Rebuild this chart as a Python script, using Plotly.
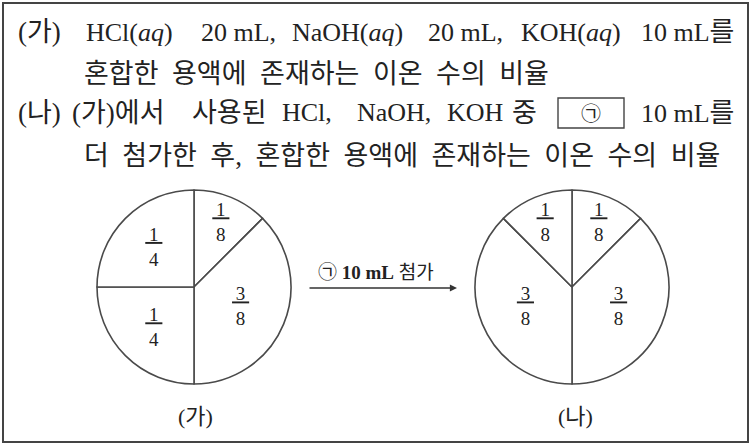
import plotly.graph_objects as go

# ---- data ----
slice_ids_ga = ["A", "B", "C", "D"]
fractions_ga = ["1/8", "3/8", "1/4", "1/4"]          # clockwise from 12 o'clock
slice_ids_na = ["A", "B", "C", "D"]
fractions_na = ["1/8", "3/8", "3/8", "1/8"]
pie_titles = ["가", "나"]
arrow_label = "㉠ <b>10 mL</b> 첨가"

W, H = 750, 444
SERIF = "Liberation Serif, Noto Sans CJK KR"
INK = "#222222"


def frac_value(f):
    n, d = f.split("/")
    return float(n) / float(d)


def frac_text(f):
    n, d = f.split("/")
    return "<u>\u2009" + n + "\u2009</u><br>" + d


def px(x):
    return x / W


def py(y):
    return 1 - y / H


def dom(cx, cy, r):
    return dict(x=[px(cx - r), px(cx + r)], y=[py(cy + r), py(cy - r)])


fig = go.Figure()
for ids, fr, (cx, cy) in [(slice_ids_ga, fractions_ga, (194, 287)),
                          (slice_ids_na, fractions_na, (572, 287))]:
    fig.add_trace(go.Pie(
        labels=ids, values=[frac_value(f) for f in fr],
        text=[frac_text(f) for f in fr], textinfo="text",
        textposition="inside", insidetextorientation="horizontal",
        sort=False, direction="clockwise", rotation=0,
        marker=dict(colors=["white"] * len(fr), line=dict(color="#4a4a4a", width=1.6)),
        textfont=dict(family="Liberation Serif", size=19, color=INK),
        domain=dom(cx, cy, 97), hoverinfo="skip", showlegend=False,
    ))

ann = []


def txt(x, y, s, size=26, anchor="left", family=SERIF):
    a = dict(x=px(x), y=py(y), xref="paper", yref="paper", text=s,
             showarrow=False, xanchor=anchor, yanchor="middle", align=anchor,
             borderpad=0, borderwidth=0,
             font=dict(family=family, size=size, color=INK))
    if anchor == "left":
        a["width"] = 748 - x
    ann.append(a)


K = 27  # korean size


def k(s, size=K):
    return '<span style="font-size:%dpx">%s</span>' % (size, s.replace(" ", "\u00a0 "))


def paren(s, size=K):
    return '<span style="font-size:%dpx">(</span>%s<span style="font-size:%dpx">)</span>' % (
        size, k(s, size), size)


# line 1
y1 = 32
txt(18, y1, paren("가"))
txt(86, y1, "HCl(<i>aq</i>)")
txt(201, y1, "20 mL,")
txt(292, y1, "NaOH(<i>aq</i>)")
txt(428, y1, "20 mL,")
txt(521, y1, "KOH(<i>aq</i>)")
txt(641, y1, "10 mL" + k("를"))
# line 2
y2 = 74
txt(84, y2, k("혼합한 용액에 존재하는 이온 수의 비율"))
# line 3
y3 = 113
txt(18, y3, paren("나"))
txt(72, y3, paren("가") + k("에서"))
txt(192, y3, k("사용된"))
txt(282, y3, "HCl,")
txt(357, y3, "NaOH,")
txt(447, y3, "KOH")
txt(512, y3, k("중"))
txt(591, y3, "㉠", size=20, anchor="center", family="Noto Sans CJK KR")
txt(641, y3, "10 mL" + k("를"))
# line 4
y4 = 156
txt(84, y4, k("더 첨가한 후, 혼합한 용액에 존재하는 이온 수의 비율"))

# pie titles
txt(195, 416, paren(pie_titles[0], 22), size=22, anchor="center")
txt(575, 416, paren(pie_titles[1], 22), size=22, anchor="center")

# arrow
ann.append(dict(x=px(457), y=py(288), xref="paper", yref="paper", ax=-149, ay=0,
                showarrow=True, arrowhead=2, arrowsize=1.1, arrowwidth=1.3,
                arrowcolor="#333333", text=""))
ann.append(dict(x=px(376), y=py(272), xref="paper", yref="paper",
                text=arrow_label, showarrow=False, xanchor="center",
                yanchor="middle", font=dict(family=SERIF, size=19, color=INK)))

shapes = [
    dict(type="rect", xref="paper", yref="paper", x0=px(3), x1=px(748), y0=py(442), y1=py(3),
         line=dict(color="#444444", width=2)),
    dict(type="rect", xref="paper", yref="paper", x0=px(558), x1=px(624), y0=py(128), y1=py(98),
         line=dict(color="#444444", width=1.4)),
]

fig.update_layout(width=W, height=H, margin=dict(l=0, r=0, t=0, b=0),
                  paper_bgcolor="white", plot_bgcolor="white",
                  annotations=ann, shapes=shapes, hovermode=False)
fig.write_html("out.html", config={"displayModeBar": False},
               post_script="document.body.style.margin='0';document.body.style.overflow='hidden';")
